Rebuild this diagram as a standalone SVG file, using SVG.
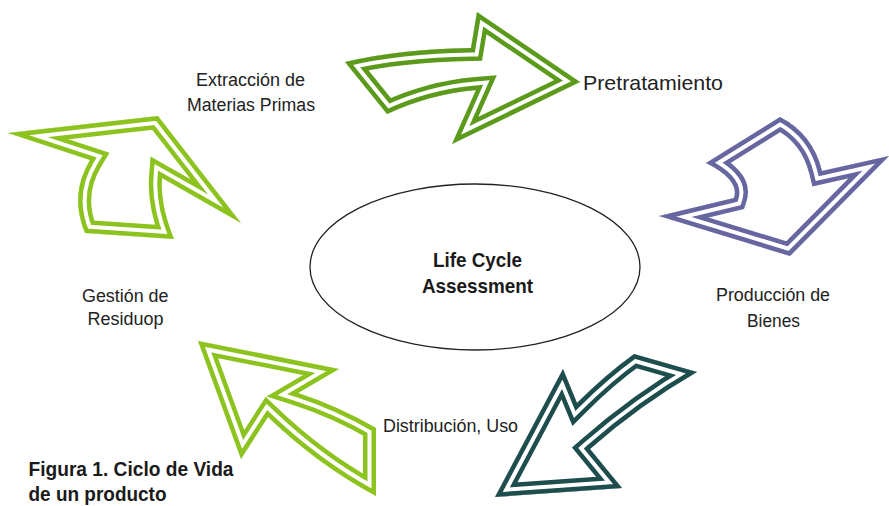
<svg xmlns="http://www.w3.org/2000/svg" xmlns:xlink="http://www.w3.org/1999/xlink" width="889" height="506" viewBox="0 0 889 506">
<style>
.o{fill:#fff;stroke-width:26;stroke-linejoin:miter;stroke-miterlimit:30}
.w{fill:none;stroke:#fff;stroke-width:17;stroke-linejoin:miter;stroke-miterlimit:30}
.i{fill:none;stroke-width:9;stroke-linejoin:miter;stroke-miterlimit:30}
.t{font-family:"Liberation Sans",Arial,sans-serif;font-size:18px;fill:#222}
.b{font-family:"Liberation Sans",Arial,sans-serif;font-weight:bold;fill:#1a1a1a}
</style>
<defs>
<path id="p1" d="M345,62 Q400,49 471,48 L477,12 L580,82 L452,144 L476,90 Q430,94 387,114 Z"/>
<path id="p2" d="M780,117 Q813,134 822,171 L889,156 L790,256 L659,216 L734,198 Q740,180 706,163 Z"/>
<path id="p3" d="M634,354 L697,372 Q640,405 590,449 L622,488 L495,497 L563,369 L577,403 Q605,375 634,354 Z"/>
<path id="p4" d="M198,341 L339,369 L298,393 Q338,406 376,428 L376,496 Q318,465 268,417 L241,459 Z"/>
<path id="p5" d="M8,133 L158,116 L241,223 L162,178 Q160,205 174,239 L85,233 Q69,195 90,160 Z"/>
<clipPath id="c1"><use xlink:href="#p1"/></clipPath>
<clipPath id="c2"><use xlink:href="#p2"/></clipPath>
<clipPath id="c3"><use xlink:href="#p3"/></clipPath>
<clipPath id="c4"><use xlink:href="#p4"/></clipPath>
<clipPath id="c5"><use xlink:href="#p5"/></clipPath>
</defs>
<rect width="889" height="506" fill="#fff"/>
<g id="connectors">
<g id="arrow-pretratamiento" clip-path="url(#c1)" stroke="#5c9a1c">
<use xlink:href="#p1" class="o"/><use xlink:href="#p1" class="w"/><use xlink:href="#p1" class="i"/>
</g>
<g id="arrow-produccion" clip-path="url(#c2)" stroke="#6666a0">
<use xlink:href="#p2" class="o"/><use xlink:href="#p2" class="w"/><use xlink:href="#p2" class="i"/>
</g>
<g id="arrow-distribucion" clip-path="url(#c3)" stroke="#1e4d4e">
<use xlink:href="#p3" class="o"/><use xlink:href="#p3" class="w"/><use xlink:href="#p3" class="i"/>
</g>
<g id="arrow-gestion" clip-path="url(#c4)" stroke="#8cc31f">
<use xlink:href="#p4" class="o"/><use xlink:href="#p4" class="w"/><use xlink:href="#p4" class="i"/>
</g>
<g id="arrow-extraccion" clip-path="url(#c5)" stroke="#8cc31f">
<use xlink:href="#p5" class="o"/><use xlink:href="#p5" class="w"/><use xlink:href="#p5" class="i"/>
</g>
</g>
<g id="lca">
<ellipse cx="475" cy="267" rx="165" ry="83" fill="#fff" stroke="#222" stroke-width="1.3"/>
<text class="b" font-size="21" x="433" y="266.5" textLength="89" lengthAdjust="spacingAndGlyphs">Life Cycle</text>
<text class="b" font-size="21" x="422" y="293" textLength="111" lengthAdjust="spacingAndGlyphs">Assessment</text>
</g>
<g id="extraccion">
<text class="t" x="196" y="86" textLength="109" lengthAdjust="spacingAndGlyphs">Extracción de</text>
<text class="t" x="187" y="111" textLength="128" lengthAdjust="spacingAndGlyphs">Materias Primas</text>
</g>
<g id="pretratamiento">
<text class="t" style="font-size:21px" x="583" y="90" textLength="140" lengthAdjust="spacingAndGlyphs">Pretratamiento</text>
</g>
<g id="produccion">
<text class="t" x="716" y="300.5" textLength="114" lengthAdjust="spacingAndGlyphs">Producción de</text>
<text class="t" x="747" y="327" textLength="53" lengthAdjust="spacingAndGlyphs">Bienes</text>
</g>
<g id="distribucion">
<text class="t" x="383" y="431.5" textLength="135" lengthAdjust="spacingAndGlyphs">Distribución, Uso</text>
</g>
<g id="gestion">
<text class="t" x="82" y="301.5" textLength="86.5" lengthAdjust="spacingAndGlyphs">Gestión de</text>
<text class="t" x="87.5" y="325" textLength="76" lengthAdjust="spacingAndGlyphs">Residuop</text>
</g>
<g id="caption">
<text class="b" font-size="21" x="28.5" y="476" textLength="205" lengthAdjust="spacingAndGlyphs">Figura 1. Ciclo de Vida</text>
<text class="b" font-size="21" x="28.5" y="500.5" textLength="138" lengthAdjust="spacingAndGlyphs">de un producto</text>
</g>
</svg>
